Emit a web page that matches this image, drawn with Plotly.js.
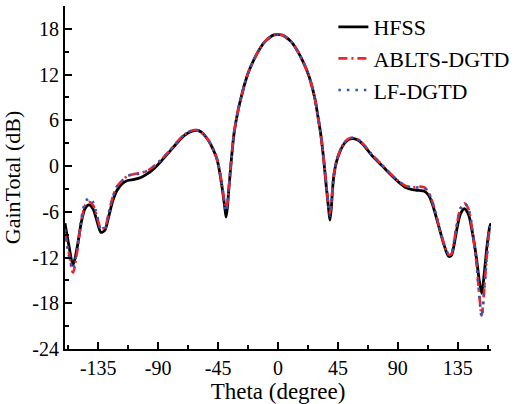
<!DOCTYPE html>
<html>
<head>
<meta charset="utf-8">
<script src="https://cdn.plot.ly/plotly-3.0.1.min.js"></script>
<style>html,body{margin:0;padding:0;background:#fff;}#chart{width:523px;height:404px;}</style>
</head>
<body>
<div id="chart"></div>
<script>
const theta = [-160,-157,-154,-151,-148,-145,-142,-139,-136,-133,-130,-127,-124,-121,-117,-113,-108,-103,-98,-93,-88,-83,-78,-73,-68,-64,-61,-58,-55,-52,-49,-46,-44,-42,-40,-39,-38,-37,-35,-33,-30,-28,-25,-22,-18,-14,-10,-6,-3,0,3,6,10,14,18,22,25,28,30,32,34,36,38,39,40,41,42,44,47,50,53,57,61,65,70,75,79,84,90,96,101,106,110,113,116,119,122,125,128,130,132,134,137,140,143,146,149,151,153,155,157,159,160];

const hfss = [-7.5,-10.5,-13.0,-10.8,-7.6,-5.6,-5.1,-5.6,-7.2,-8.7,-8.4,-6.5,-4.5,-3.2,-2.3,-1.9,-1.75,-1.5,-1.0,-0.3,0.6,1.6,2.6,3.6,4.3,4.6,4.7,4.5,4.0,3.3,2.3,1.0,-0.6,-2.8,-5.4,-6.7,-5.4,-3.2,0.9,4.3,7.3,8.8,10.8,12.4,14.0,15.3,16.3,16.9,17.2,17.25,17.2,16.9,16.3,15.3,14.0,12.4,10.8,8.6,6.5,4.3,1.4,-2.2,-5.6,-7.1,-5.6,-3.0,-1.2,0.6,2.1,3.0,3.5,3.6,3.3,2.6,1.5,0.6,-0.1,-1.0,-2.0,-2.8,-3.1,-3.2,-3.3,-3.8,-5.0,-6.8,-8.7,-10.5,-11.8,-11.8,-10.6,-8.6,-6.3,-5.6,-6.3,-8.7,-12.0,-14.8,-16.7,-14.0,-10.5,-8.0,-7.5];

const ablts = [-8.8,-11.5,-14.0,-11.4,-7.6,-5.2,-4.7,-5.1,-6.6,-8.2,-8.0,-6.0,-4.0,-2.7,-1.9,-1.3,-1.05,-0.9,-0.6,0.0,0.8,1.7,2.7,3.7,4.4,4.7,4.7,4.5,4.0,3.3,2.3,1.0,-0.5,-2.6,-5.0,-5.6,-4.9,-3.0,1.0,4.4,7.3,8.8,10.8,12.4,14.0,15.3,16.3,16.9,17.2,17.25,17.2,16.9,16.3,15.3,14.0,12.4,10.8,8.6,6.5,4.3,1.5,-2.0,-5.2,-6.2,-5.1,-2.8,-1.1,0.7,2.2,3.1,3.6,3.7,3.4,2.7,1.6,0.7,0.0,-0.9,-1.9,-2.6,-2.8,-2.7,-2.8,-3.4,-4.7,-6.6,-8.6,-10.4,-11.6,-11.6,-10.2,-8.0,-5.6,-4.9,-5.6,-8.5,-12.6,-16.5,-19.6,-16.0,-11.5,-8.3,-7.9];

const lfdgtd = [-8.3,-11.8,-13.5,-11.0,-7.2,-4.8,-4.2,-4.7,-6.4,-8.3,-8.2,-6.1,-4.0,-2.7,-1.9,-1.3,-1.1,-0.95,-0.6,0.0,0.8,1.7,2.7,3.7,4.4,4.7,4.7,4.5,4.0,3.3,2.3,1.0,-0.5,-2.6,-5.1,-6.0,-5.1,-3.1,1.0,4.4,7.3,8.8,10.8,12.4,14.0,15.3,16.3,16.9,17.2,17.25,17.2,16.9,16.3,15.3,14.0,12.4,10.8,8.6,6.5,4.3,1.5,-2.1,-5.4,-6.5,-5.3,-2.9,-1.1,0.7,2.2,3.1,3.6,3.7,3.4,2.7,1.6,0.7,0.0,-0.9,-1.9,-2.6,-2.8,-2.8,-2.9,-3.4,-4.7,-6.6,-8.6,-10.4,-11.5,-11.5,-10.1,-8.0,-5.6,-4.9,-5.5,-8.4,-12.6,-16.6,-19.8,-16.2,-11.6,-8.3,-7.9];

const seriesNames = ['HFSS','ABLTS-DGTD','LF-DGTD'];
const xTickVals = [-135,-90,-45,0,45,90,135];
const xTickText = ['-135','-90','-45','0','45','90','135'];
const yTickVals = [-24,-18,-12,-6,0,6,12,18];
const yTickText = ['-24','-18','-12','-6','0','6','12','18'];

const serif = 'Liberation Serif, Times New Roman, serif';

const traces = [
  {x: theta, y: hfss, name: seriesNames[0], mode: 'lines',
   line: {color: '#000000', width: 2.8, shape: 'spline', smoothing: 0.8}},
  {x: theta, y: ablts, name: seriesNames[1], mode: 'lines',
   line: {color: '#f2222a', width: 2.6, dash: '9px,4px,2px,4px', shape: 'spline', smoothing: 0.8}},
  {x: theta, y: lfdgtd, name: seriesNames[2], mode: 'lines',
   line: {color: '#3556b8', width: 2.6, dash: '2.5px,6px', shape: 'spline', smoothing: 0.8}}
];

const layout = {
  width: 523, height: 404,
  margin: {l: 65, r: 32, t: 6, b: 55},
  paper_bgcolor: '#ffffff', plot_bgcolor: '#ffffff',
  font: {family: serif, color: '#000', size: 20},
  showlegend: true,
  legend: {x: 0.63, y: 1.0, xanchor: 'left', yanchor: 'top',
           bgcolor: 'rgba(0,0,0,0)', borderwidth: 0,
           font: {family: serif, size: 22, color: '#000'},
           tracegroupgap: 0, itemwidth: 30},
  xaxis: {range: [-160, 160], tickmode: 'array', tickvals: xTickVals, ticktext: xTickText,
          ticks: 'inside', ticklen: 7, tickwidth: 2, tickcolor: '#000',
          minor: {tickmode: 'linear', tick0: 0, dtick: 22.5, ticks: 'inside', ticklen: 4, tickwidth: 2, tickcolor: '#000'},
          showline: true, linewidth: 2, linecolor: '#000', mirror: false,
          showgrid: false, zeroline: false,
          tickfont: {family: serif, size: 20},
          title: {text: 'Theta (degree)', font: {family: serif, size: 23}, standoff: 3}},
  yaxis: {range: [-24, 21], tickmode: 'array', tickvals: yTickVals, ticktext: yTickText,
          ticks: 'inside', ticklen: 7, tickwidth: 2, tickcolor: '#000',
          minor: {tickmode: 'linear', tick0: 0, dtick: 3, ticks: 'inside', ticklen: 4, tickwidth: 2, tickcolor: '#000'},
          showline: true, linewidth: 2, linecolor: '#000', mirror: false,
          showgrid: false, zeroline: false,
          tickfont: {family: serif, size: 20},
          title: {text: 'GainTotal (dB)', font: {family: serif, size: 22}, standoff: 6}}
};

Plotly.newPlot('chart', traces, layout, {displayModeBar: false, staticPlot: true});
</script>
</body>
</html>
